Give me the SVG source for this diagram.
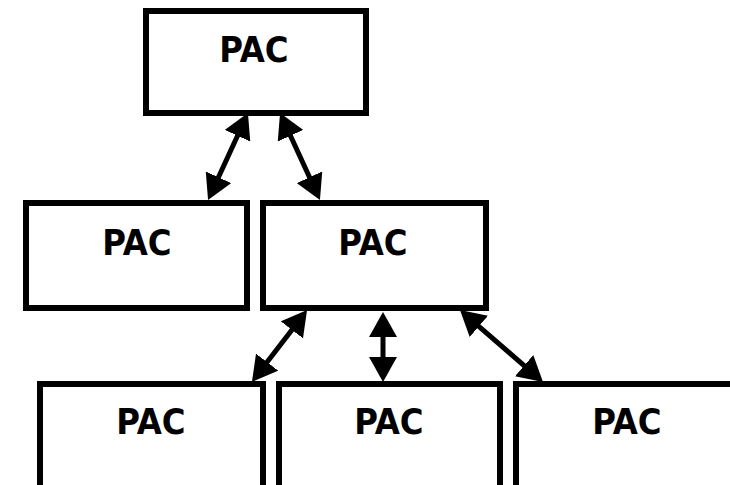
<svg xmlns="http://www.w3.org/2000/svg" width="730" height="485" viewBox="0 0 730 485">
  <style>
    .box { fill: #ffffff; stroke: #000000; stroke-width: 6; }
    .lbl { font-family: "DejaVu Sans Condensed", "Liberation Sans", sans-serif; font-weight: bold; font-size: 36px; fill: #000000; text-anchor: middle; }
    .link { stroke: #000000; stroke-width: 5; fill: none; marker-start: url(#head); marker-end: url(#head); }
  </style>
  <defs>
    <marker id="head" viewBox="-5 -14 25 28" markerWidth="25" markerHeight="28" refX="0" refY="0" markerUnits="userSpaceOnUse" orient="auto-start-reverse">
      <path d="M-5,-14 L20,0 L-5,14 z" fill="#000000"/>
    </marker>
  </defs>
  <rect x="0" y="0" width="730" height="485" fill="#ffffff"/>
  <g id="pac-top">
    <rect class="box" x="146" y="11" width="220" height="102"/>
    <text class="lbl" x="254" y="62">PAC</text>
  </g>
  <g id="pac-mid-left">
    <rect class="box" x="26" y="203" width="221" height="105"/>
    <text class="lbl" x="137" y="255">PAC</text>
  </g>
  <g id="pac-mid-right">
    <rect class="box" x="263" y="203" width="223" height="105"/>
    <text class="lbl" x="373" y="255">PAC</text>
  </g>
  <g id="pac-bottom-left">
    <rect class="box" x="40" y="384" width="223" height="120"/>
    <text class="lbl" x="151" y="434">PAC</text>
  </g>
  <g id="pac-bottom-mid">
    <rect class="box" x="279" y="384" width="221" height="120"/>
    <text class="lbl" x="389" y="434">PAC</text>
  </g>
  <g id="pac-bottom-right">
    <rect class="box" x="516" y="384" width="223" height="120"/>
    <text class="lbl" x="627" y="434">PAC</text>
  </g>
  <g id="connectors">
    <line class="link" x1="239.6" y1="131.2" x2="216.4" y2="181.8"/>
    <line class="link" x1="288.4" y1="131.2" x2="311.6" y2="181.8"/>
    <line class="link" x1="294.9" y1="325.9" x2="264.1" y2="366.1"/>
    <line class="link" x1="383" y1="332" x2="383" y2="362"/>
    <line class="link" x1="475.1" y1="323.1" x2="527.9" y2="368.9"/>
  </g>
</svg>
